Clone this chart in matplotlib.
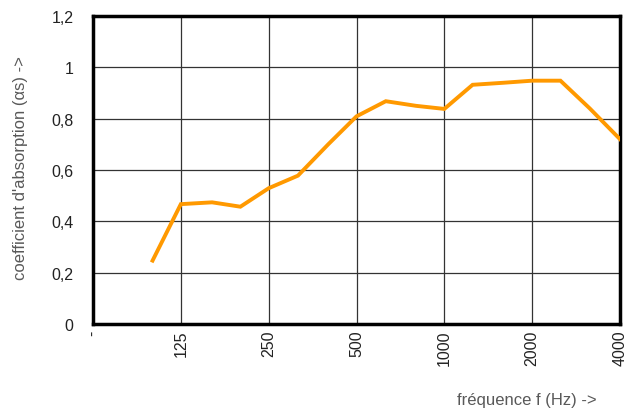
import numpy as np
import matplotlib.pyplot as plt

plt.rcParams["font.family"] = ["Liberation Sans", "DejaVu Sans"]

freqs = [100, 125, 160, 200, 250, 315, 400, 500, 630, 800, 1000,
         1250, 1600, 2000, 2500, 3150, 4000]
alpha = [0.247, 0.467, 0.474, 0.457, 0.529, 0.578, 0.70, 0.809, 0.868,
         0.85, 0.838, 0.932, 0.94, 0.948, 0.948, 0.84, 0.72]

tick_freqs = [62.5, 125, 250, 500, 1000, 2000, 4000]
tick_labels = ["-", "125", "250", "500", "1000", "2000", "4000"]
y_ticks = [0, 0.2, 0.4, 0.6, 0.8, 1.0, 1.2]
y_labels = ["0", "0,2", "0,4", "0,6", "0,8", "1", "1,2"]

fig = plt.figure(figsize=(6.26, 4.14), dpi=100)
ax = fig.add_axes([93 / 626, 1 - 325 / 414, (620 - 93) / 626, (325 - 17) / 414])

ax.plot(freqs, alpha, color="#ff9900", lw=2.8, solid_joinstyle="miter", zorder=3)

ax.set_xscale("log", base=2)
ax.set_xlim(62.5, 4000)
ax.set_ylim(0, 1.2)
ax.set_xticks(tick_freqs)
ax.set_xticklabels(tick_labels, rotation=90)
ax.xaxis.set_minor_locator(plt.NullLocator())
ax.set_yticks(y_ticks)
ax.set_yticklabels(y_labels)

ax.grid(True, color="#333333", lw=0.9)
ax.set_axisbelow(True)
for s in ax.spines.values():
    s.set_linewidth(2.5)
    s.set_color("black")

ax.tick_params(axis="both", length=0, labelsize=11.5, colors="#222222")
ax.tick_params(axis="y", pad=14)
ax.tick_params(axis="x", pad=4)

fig.text(21 / 626, 1 - 168 / 414, "coefficient d'absorption (αs) ->", rotation=90,
         ha="center", va="center", fontsize=12, color="#595959")
fig.text(527 / 626, 1 - 401 / 414, "fréquence f (Hz) ->", ha="center", va="center",
         fontsize=12, color="#595959")

fig.savefig("out.png", dpi=100)
